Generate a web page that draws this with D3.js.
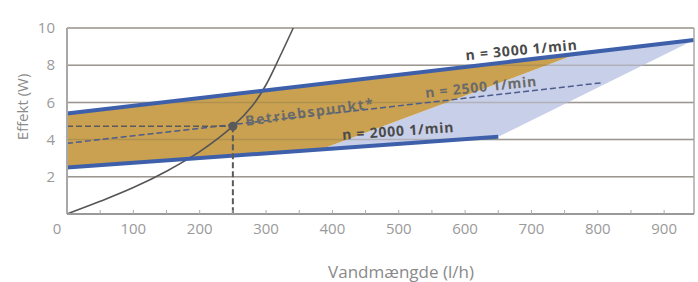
<!DOCTYPE html>
<html>
<head>
<meta charset="utf-8">
<script src="https://cdn.jsdelivr.net/npm/d3@7/dist/d3.min.js"></script>
<style>
  body { margin: 0; background: #fff; }
  svg text { font-family: "Open Sans", sans-serif; }
</style>
</head>
<body>
<div id="chart"></div>
<script>
"use strict";

// flow (l/h), power (W)
const line3000 = [[0, 5.4], [945, 9.35]];
const line2500 = [[0, 3.8], [805, 7.05]];
const line2000 = [[0, 2.5], [650, 4.15]];

// working areas
const areaTan = [[0, 5.4], [769, 8.61], [382, 3.47], [0, 2.5]];
const areaBlue = [[382, 3.47], [769, 8.61], [945, 9.35], [650, 4.15]];

// system curve
const systemCurve = [[0, 0], [50, 0.68], [100, 1.42], [150, 2.3], [200, 3.35],
  [250, 4.72], [280, 5.85], [300, 6.95], [320, 8.4], [341, 10]];
const dutyPoint = [250, 4.72];

const xTicks = [0, 100, 200, 300, 400, 500, 600, 700, 800, 900];
const xMinorTicks = [50, 100, 150, 200, 250, 300, 350, 400, 450, 500, 550, 600, 650, 700, 750, 800, 850, 900];
const yTicks = [2, 4, 6, 8, 10];

const curveLabels = ["n = 3000 1/min", "n = 2500 1/min", "n = 2000 1/min", "Betriebspunkt*"];
const curveLabelAt = [[685, 8.82], [624, 6.83], [499, 4.46], [366, 5.48]];

const width = 698, height = 282;
const margin = { top: 28, right: 4, bottom: 68, left: 67 };

let svg = d3.select("#chart").append("svg")
  .attr("width", width)
  .attr("height", height);

let x = d3.scaleLinear().domain([0, 945]).range([margin.left, width - margin.right]);
let y = d3.scaleLinear().domain([0, 10]).range([height - margin.bottom, margin.top]);

let line = d3.line().x(d => x(d[0])).y(d => y(d[1]));

// grid
function drawGrid(color, op) {
  svg.append("g").selectAll("line")
    .data(yTicks).enter().append("line")
    .attr("x1", x(0)).attr("x2", x(945))
    .attr("y1", d => y(d)).attr("y2", d => y(d))
    .attr("stroke", color).attr("stroke-opacity", op).attr("stroke-width", 1.5);
}
drawGrid("#ababab", 1);

// areas
svg.append("path").attr("d", line(areaBlue) + "Z").attr("fill", "#c8cfe8");
svg.append("path").attr("d", line(areaTan) + "Z").attr("fill", "#c9a150");

drawGrid("#7a6a50", 0.3);

// system curve
svg.append("path")
  .attr("d", d3.line().x(d => x(d[0])).y(d => y(d[1])).curve(d3.curveCatmullRom)(systemCurve))
  .attr("fill", "none").attr("stroke", "#555").attr("stroke-width", 1.6);

// rpm lines
svg.append("path").attr("d", line(line2500))
  .attr("fill", "none").attr("stroke", "#4c5c8c").attr("stroke-width", 1.5)
  .attr("stroke-dasharray", "6,3");
svg.append("path").attr("d", line(line3000))
  .attr("fill", "none").attr("stroke", "#3e60ab").attr("stroke-width", 4);
svg.append("path").attr("d", line(line2000))
  .attr("fill", "none").attr("stroke", "#3e60ab").attr("stroke-width", 4);

// duty point
svg.append("line")
  .attr("x1", x(0)).attr("x2", x(dutyPoint[0]))
  .attr("y1", y(dutyPoint[1])).attr("y2", y(dutyPoint[1]))
  .attr("stroke", "#5a5a5a").attr("stroke-width", 1.6).attr("stroke-dasharray", "6,3");
svg.append("line")
  .attr("x1", x(dutyPoint[0])).attr("x2", x(dutyPoint[0]))
  .attr("y1", y(dutyPoint[1])).attr("y2", y(0))
  .attr("stroke", "#5a5a5a").attr("stroke-width", 2).attr("stroke-dasharray", "6,3");
svg.append("circle")
  .attr("cx", x(dutyPoint[0])).attr("cy", y(dutyPoint[1])).attr("r", 4.5)
  .attr("fill", "#5a5a5a");

// labels on the chart
let angles = [-5.5, -6, -4, -8];
let labelColors = ["#4a4a4a", "#6a6a6a", "#4a4a4a", "#6a6a6a"];
svg.append("g").selectAll("text")
  .data(curveLabels).enter().append("text")
  .attr("transform", (d, i) => "translate(" + x(curveLabelAt[i][0]) + "," + y(curveLabelAt[i][1]) + ") rotate(" + angles[i] + ")")
  .attr("text-anchor", "middle")
  .attr("dy", "0.35em")
  .attr("font-size", 14)
  .attr("font-weight", "bold")
  .attr("letter-spacing", (d, i) => i === 3 ? 1.6 : 0.8)
  .attr("fill", (d, i) => labelColors[i])
  .text(d => d);

// frame
svg.append("line")
  .attr("x1", x(0)).attr("x2", x(0)).attr("y1", y(10)).attr("y2", y(0))
  .attr("stroke", "#a8a8a8").attr("stroke-width", 2);
svg.append("line")
  .attr("x1", x(945)).attr("x2", x(945)).attr("y1", y(10)).attr("y2", y(0))
  .attr("stroke", "#a8a8a8").attr("stroke-width", 1.5);

// x axis
let xAxis = svg.append("g")
  .attr("transform", "translate(0," + y(0) + ")");
xAxis.append("line")
  .attr("x1", x(0)).attr("x2", x(945))
  .attr("stroke", "#999").attr("stroke-width", 2);
xAxis.selectAll(".minor")
  .data(xMinorTicks).enter().append("line")
  .attr("class", "minor")
  .attr("x1", d => x(d)).attr("x2", d => x(d))
  .attr("y1", 0).attr("y2", -4)
  .attr("stroke", "#aaa").attr("stroke-width", 1);
xAxis.selectAll(".tl")
  .data(xTicks).enter().append("text")
  .attr("class", "tl")
  .attr("x", d => x(d) - (d === 0 ? 10 : 0))
  .attr("y", 15)
  .attr("dy", "0.35em")
  .attr("text-anchor", "middle")
  .attr("font-size", 15)
  .attr("fill", "#9a9a9a")
  .text(d => d);

// y axis labels
svg.append("g").selectAll("text")
  .data(yTicks).enter().append("text")
  .attr("x", 55)
  .attr("y", d => y(d))
  .attr("dy", "0.35em")
  .attr("text-anchor", "end")
  .attr("font-size", 15)
  .attr("fill", "#9a9a9a")
  .text(d => d);

// axis titles
svg.append("text")
  .attr("transform", "translate(23,107) rotate(-90)")
  .attr("text-anchor", "middle")
  .attr("dy", "0.35em")
  .attr("font-size", 15)
  .attr("fill", "#8a8a8a")
  .text("Effekt (W)");

svg.append("text")
  .attr("x", 401)
  .attr("y", 272)
  .attr("text-anchor", "middle")
  .attr("dy", "0.35em")
  .attr("font-size", 17)
  .attr("fill", "#8a8a8a")
  .text("Vandmængde (l/h)");
</script>
</body>
</html>
